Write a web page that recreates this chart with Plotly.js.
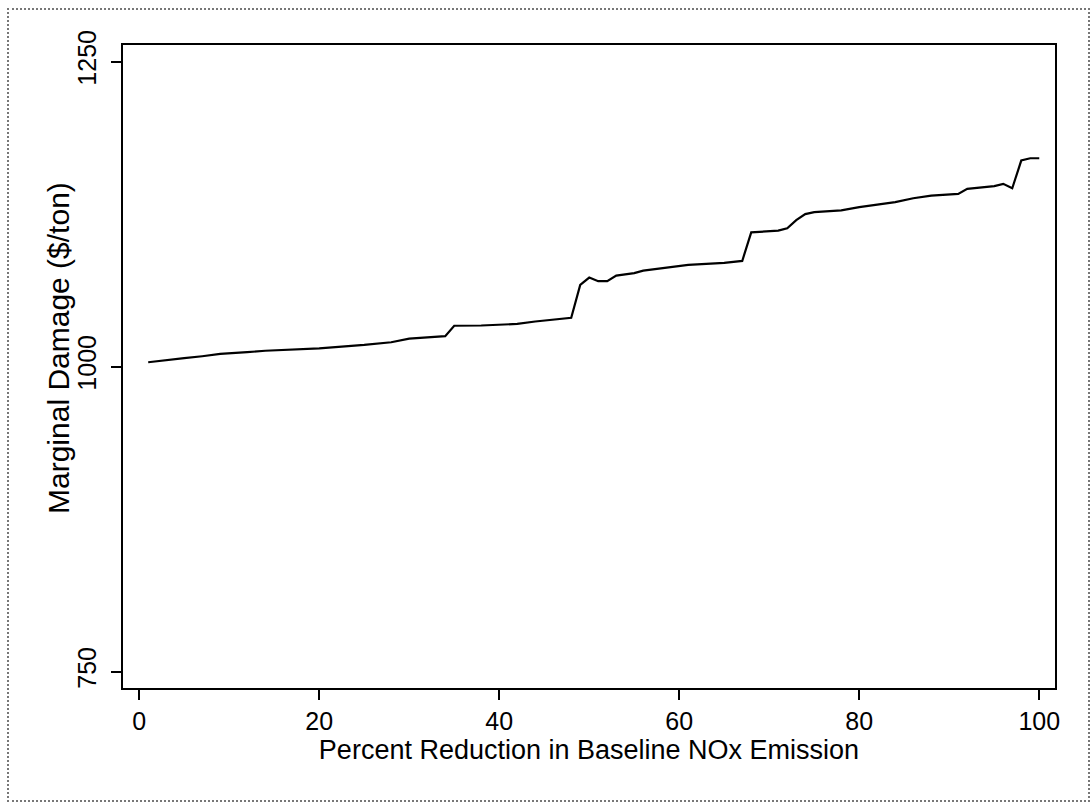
<!DOCTYPE html>
<html>
<head>
<meta charset="utf-8">
<script src="https://cdn.plot.ly/plotly-3.0.1.min.js"></script>
<style>
  html, body { margin: 0; padding: 0; background: #fff; }
  #chart { position: absolute; left: 0; top: 0; width: 1092px; height: 804px; }
  #frame { position: absolute; left: 7px; top: 8px; width: 1079px; height: 790px;
           border: 2px dotted #777; pointer-events: none; }
</style>
</head>
<body>
<div id="chart"></div>
<div id="frame"></div>
<script>
// Percent reduction in baseline NOx emission
const percentReduction = [1, 3, 5, 7, 9, 12, 14, 20, 22, 25, 28, 30, 34, 35, 38, 42, 44, 46, 48,
  49, 50, 51, 52, 53, 55, 56, 59, 61, 65, 67, 68, 71, 72, 73, 74, 75, 78, 80, 84, 86, 88, 91,
  92, 93, 95, 96, 97, 98, 99, 100];
// Marginal damage ($/ton)
const marginalDamage = [1003.6, 1005, 1006.9, 1008.5, 1010.4, 1011.8, 1013, 1015, 1016, 1017.8,
  1020, 1023, 1025, 1033.5, 1033.7, 1035, 1037, 1038.3, 1040,
  1067, 1073, 1070, 1070, 1074.6, 1076.6, 1078.7, 1081.5, 1083.4, 1085, 1086.6, 1110, 1111.5,
  1113.4, 1120, 1125, 1126.6, 1128, 1130.7, 1134.8, 1138, 1140.2, 1141.6,
  1145.7, 1146.5, 1148, 1149.8, 1146.2, 1168.9, 1170.8, 1170.8];
const xTicks = [0, 20, 40, 60, 80, 100];
const yTicks = [750, 1000, 1250];
const xTitle = 'Percent Reduction in Baseline NOx Emission';
const yTitle = 'Marginal Damage ($/ton)';

const trace = {
  x: percentReduction,
  y: marginalDamage,
  type: 'scatter',
  mode: 'lines',
  line: { color: '#000', width: 2.2 },
  hoverinfo: 'x+y'
};

const fontFam = 'Arial, "Liberation Sans", Helvetica, sans-serif';

const layout = {
  width: 1092,
  height: 804,
  margin: { l: 123, r: 37, t: 45, b: 116 },
  paper_bgcolor: '#fff',
  plot_bgcolor: '#fff',
  showlegend: false,
  font: { family: fontFam, color: '#000', size: 25 },
  xaxis: {
    range: [-1.8, 101.75],
    tickvals: xTicks,
    ticktext: xTicks.map(String),
    ticks: 'outside',
    ticklen: 10,
    tickwidth: 2,
    tickcolor: '#000',
    showline: true,
    linecolor: '#000',
    linewidth: 2,
    mirror: true,
    showgrid: false,
    zeroline: false,
    tickfont: { family: fontFam, size: 25, color: '#000' },
    title: { text: xTitle,
             font: { family: fontFam, size: 27, color: '#000' }, standoff: 0 }
  },
  yaxis: {
    range: [736.6, 1263.6],
    tickvals: yTicks,
    ticktext: yTicks.map(String),
    tickangle: -90,
    ticks: 'outside',
    ticklen: 10,
    tickwidth: 2,
    tickcolor: '#000',
    ticklabelstandoff: 5,
    showline: true,
    linecolor: '#000',
    linewidth: 2,
    mirror: true,
    showgrid: false,
    zeroline: false,
    tickfont: { family: fontFam, size: 25, color: '#000' }
  },
  annotations: [{
    text: yTitle,
    xref: 'paper', yref: 'paper',
    x: (58 - 123) / 932, y: (688 - 348) / 643,
    xanchor: 'center', yanchor: 'middle',
    textangle: -90,
    showarrow: false,
    font: { family: fontFam, size: 30, color: '#000' }
  }]
};

Plotly.newPlot('chart', [trace], layout, { displayModeBar: false, staticPlot: true });
</script>
</body>
</html>
